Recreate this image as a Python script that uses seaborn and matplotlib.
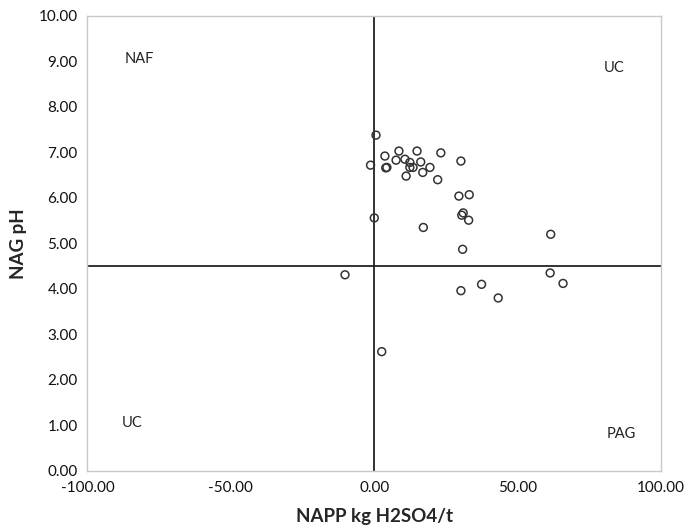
import matplotlib
matplotlib.use("Agg")
import matplotlib.pyplot as plt
import seaborn as sns
import pandas as pd
from matplotlib.ticker import FormatStrFormatter

# --- data ---
napp = [0.6, -1.3, 3.7, 4.4, 4.0, 8.6, 7.6, 10.7, 12.4, 14.9, 16.2, 13.5, 12.4,
        11.1, 16.9, 19.4, 23.2, 22.1, 30.2, 29.5, 33.1, 31.0, 30.5, 32.9, 0.0,
        17.1, 30.8, 61.5, -10.2, 61.3, 65.8, 37.4, 30.2, 43.2, 2.6]
nag_ph = [7.38, 6.72, 6.92, 6.67, 6.66, 7.03, 6.83, 6.85, 6.78, 7.03, 6.79, 6.67, 6.67,
          6.48, 6.56, 6.67, 6.99, 6.40, 6.81, 6.04, 6.07, 5.67, 5.62, 5.51, 5.56,
          5.35, 4.87, 5.20, 4.31, 4.35, 4.12, 4.10, 3.96, 3.80, 2.62]
x_ticks = [-100, -50, 0, 50, 100]
y_ticks = [0, 1, 2, 3, 4, 5, 6, 7, 8, 9, 10]
napp_cut = 0.0
ph_cut = 4.5
quad_labels = ["NAF", "UC", "UC", "PAG"]
quad_pos = [(-87, 9.05), (80, 8.85), (-88, 1.05), (81, 0.82)]

df = pd.DataFrame({"NAPP": napp, "NAG": nag_ph})

sns.set_style("white")
plt.rcParams["font.family"] = ["Lato", "DejaVu Sans"]

fig = plt.figure(figsize=(6.88, 5.32), dpi=100)
ax = fig.add_axes([0.127, 0.115, 0.834, 0.855])

sns.scatterplot(data=df, x="NAPP", y="NAG", ax=ax, s=32, facecolor="none",
                edgecolor="#333333", linewidth=1.1, zorder=3)

ax.axvline(napp_cut, color="#222222", lw=1.3, zorder=2)
ax.axhline(ph_cut, color="#222222", lw=1.3, zorder=2)

for lab, (lx, ly) in zip(quad_labels, quad_pos):
    ax.text(lx, ly, lab, fontsize=10.5, color="#222222", ha="left", va="center")

ax.set_xlim(-100, 100)
ax.set_ylim(0, 10)
ax.set_xticks(x_ticks)
ax.set_yticks(y_ticks)
ax.xaxis.set_major_formatter(FormatStrFormatter("%.2f"))
ax.yaxis.set_major_formatter(FormatStrFormatter("%.2f"))
ax.tick_params(axis="both", length=4, width=0.8, color="#bfbfbf",
               labelsize=11, labelcolor="#111111", direction="out")
ax.tick_params(axis="x", pad=3)
ax.tick_params(axis="y", pad=3)

for sp in ax.spines.values():
    sp.set_color("#c8c8c8")
    sp.set_linewidth(1.0)

ax.set_xlabel("NAPP kg H2SO4/t", fontsize=13.5, fontweight="bold", labelpad=10)
ax.set_ylabel("NAG pH", fontsize=13.5, fontweight="bold", labelpad=8)

fig.savefig("out.png", dpi=100)
